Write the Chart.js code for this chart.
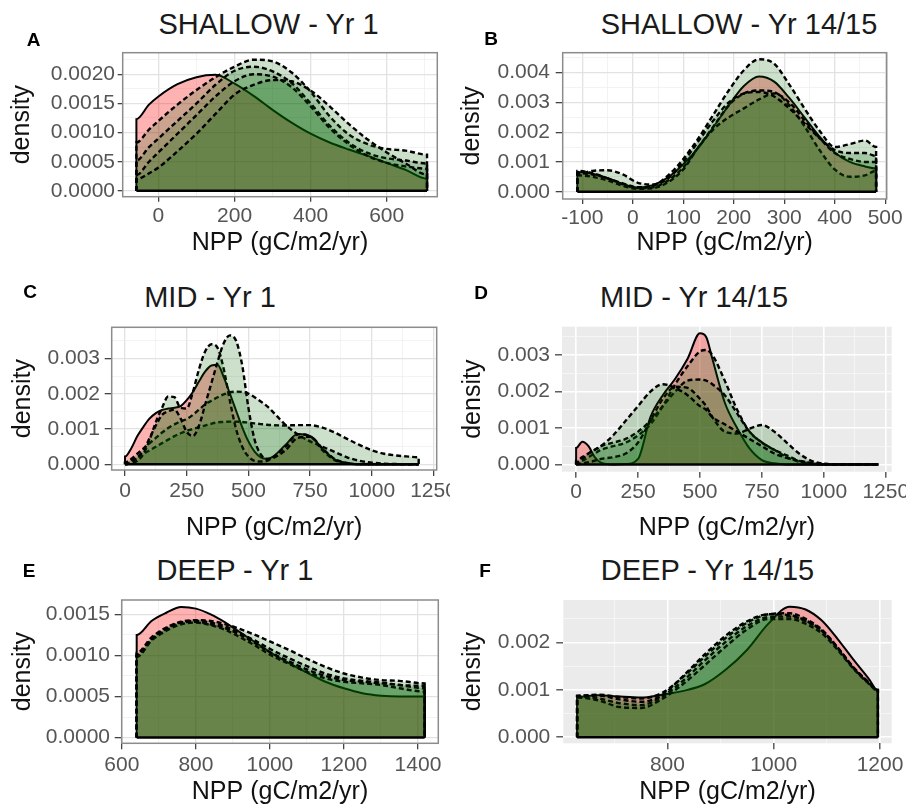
<!DOCTYPE html>
<html>
<head>
<meta charset="utf-8">
<title>NPP density</title>
<script src="https://cdn.jsdelivr.net/npm/chart.js@4.4.1/dist/chart.umd.min.js"></script>
<style>
  body {
    margin: 0;
    width: 906px;
    height: 808px;
    position: relative;
    overflow: hidden;
    background: #fff;
    font-family: 'Liberation Sans', Arial, sans-serif;
  }
  canvas { position: absolute; }
  .title, .tag {
    position: absolute;
    transform: translate(-50%, -50%);
    white-space: nowrap;
    line-height: 1;
    color: #1a1a1a;
  }
  .title { font-size: 29px; }
  .tag { font-size: 19px; font-weight: bold; color: #000; }
</style>
</head>
<body>
<script>
// ---- data (NPP grid + density per group) ----

// A: SHALLOW - Yr 1
const shallow1Npp = [-58, -25, 0, 50, 100, 150, 200, 250, 300, 350, 400, 450, 500, 550, 600, 650, 706];
const shallow1Red = [0.00123, 0.00148, 0.00162, 0.00183, 0.00195, 0.00199, 0.00184, 0.00163, 0.00139, 0.00117, 0.00098, 0.00083, 0.00071, 0.0006, 0.00048, 0.00036, 0.00021];
const shallow1Green1 = [0.00083, 0.00105, 0.0012, 0.00148, 0.00173, 0.00195, 0.00213, 0.00225, 0.00222, 0.00203, 0.0017, 0.00128, 0.00097, 0.0008, 0.00072, 0.00069, 0.00062];
const shallow1Green2 = [0.00052, 0.00075, 0.0009, 0.0012, 0.0015, 0.00182, 0.00206, 0.00213, 0.00205, 0.00185, 0.0015, 0.00112, 0.00083, 0.00065, 0.00056, 0.00052, 0.00047];
const shallow1Green3 = [0.00027, 0.0005, 0.00066, 0.00098, 0.0013, 0.00162, 0.00188, 0.002, 0.00196, 0.00178, 0.00145, 0.00108, 0.0008, 0.0006, 0.00048, 0.00042, 0.00038];
const shallow1Green4 = [0.0002, 0.0003, 0.0004, 0.00068, 0.00098, 0.00132, 0.00165, 0.00182, 0.0019, 0.00188, 0.00172, 0.00145, 0.00115, 0.00088, 0.00066, 0.00047, 0.00028];

// B: SHALLOW - Yr 14/15
const shallow14Npp = [-110, -80, -50, -20, 10, 40, 70, 100, 130, 160, 190, 220, 250, 280, 310, 340, 370, 400, 430, 460, 482];
const shallow14Red = [0.00066, 0.0006, 0.00045, 0.00026, 0.00014, 0.00022, 0.00048, 0.00092, 0.00148, 0.00218, 0.0029, 0.00355, 0.00387, 0.0037, 0.00315, 0.0025, 0.00185, 0.00132, 0.001, 0.00085, 0.00078];
const shallow14Green1 = [0.0006, 0.0007, 0.00072, 0.00058, 0.0003, 0.00024, 0.00055, 0.0011, 0.0018, 0.0026, 0.0034, 0.00408, 0.00445, 0.0043, 0.0036, 0.0028, 0.00205, 0.0015, 0.0016, 0.00172, 0.0015];
const shallow14Green2 = [0.0007, 0.00062, 0.00045, 0.00025, 0.00012, 0.00015, 0.00038, 0.00082, 0.0015, 0.0022, 0.0029, 0.0033, 0.0034, 0.00335, 0.0029, 0.0022, 0.0014, 0.00075, 0.0005, 0.00055, 0.0007];
const shallow14Green3 = [0.00055, 0.0005, 0.00038, 0.0002, 0.0001, 0.00012, 0.00032, 0.00075, 0.0015, 0.0021, 0.0025, 0.0028, 0.0031, 0.0033, 0.003, 0.0024, 0.0018, 0.0013, 0.0011, 0.001, 0.001];
const shallow14Green4 = [0.00062, 0.00058, 0.00045, 0.00028, 0.00015, 0.0002, 0.00045, 0.001, 0.0017, 0.0024, 0.003, 0.0033, 0.00335, 0.0032, 0.0028, 0.0023, 0.0018, 0.0014, 0.0013, 0.0013, 0.0012];

// C: MID - Yr 1
const mid1Npp = [0, 25, 50, 75, 100, 125, 150, 175, 200, 225, 250, 275, 300, 325, 350, 375, 400, 425, 450, 475, 500, 525, 550, 575, 600, 650, 700, 750, 800, 850, 900, 950, 1000, 1050, 1100, 1150, 1190];
const mid1Red = [0.00022, 0.00045, 0.0008, 0.00107, 0.0013, 0.00145, 0.00154, 0.00158, 0.0016, 0.00165, 0.00182, 0.00205, 0.00235, 0.00263, 0.0028, 0.00282, 0.00247, 0.002, 0.00152, 0.00105, 0.00065, 0.00036, 0.0002, 0.00016, 0.00022, 0.00055, 0.00086, 0.0008, 0.00045, 0.00014, 0.00003, 0.00001, 0, 0, 0, 0, 0];
const mid1Green1 = [0.00005, 0.00012, 0.0002, 0.0003, 0.0004, 0.0005, 0.0006, 0.0007, 0.0008, 0.00088, 0.00095, 0.001, 0.00105, 0.0011, 0.00115, 0.00119, 0.0012, 0.00121, 0.00121, 0.0012, 0.00118, 0.00116, 0.00114, 0.00112, 0.00111, 0.0011, 0.00111, 0.00111, 0.00104, 0.0009, 0.00072, 0.00055, 0.0004, 0.0003, 0.00025, 0.00022, 0.0002];
const mid1Green2 = [0.00005, 0.00015, 0.0003, 0.00045, 0.0006, 0.00075, 0.0009, 0.00103, 0.00113, 0.00122, 0.00128, 0.0014, 0.00155, 0.0017, 0.0018, 0.0019, 0.00198, 0.00204, 0.00206, 0.00205, 0.002, 0.0019, 0.00178, 0.00165, 0.00148, 0.00112, 0.00085, 0.00065, 0.0005, 0.00035, 0.0002, 0.0001, 0.00005, 0.00002, 0.00001, 0, 0];
const mid1Green3 = [0, 0.00003, 0.0001, 0.0003, 0.0007, 0.0012, 0.0016, 0.00192, 0.0019, 0.0016, 0.00158, 0.00205, 0.0027, 0.0032, 0.0034, 0.0033, 0.0027, 0.0018, 0.001, 0.0005, 0.00022, 0.0001, 0.00008, 0.0001, 0.0002, 0.0005, 0.00085, 0.0008, 0.0004, 0.00012, 0.00003, 0, 0, 0, 0, 0, 0];
const mid1Green4 = [0, 0.00005, 0.0002, 0.0004, 0.00075, 0.0011, 0.0014, 0.0015, 0.00155, 0.0013, 0.00092, 0.0008, 0.0011, 0.0017, 0.0023, 0.0029, 0.00343, 0.00365, 0.0035, 0.0028, 0.0016, 0.0007, 0.00028, 0.00015, 0.00018, 0.0004, 0.00075, 0.00078, 0.00045, 0.00015, 0.00004, 0, 0, 0, 0, 0, 0];

// D: MID - Yr 14/15
const mid14Npp = [0, 25, 50, 75, 100, 150, 200, 250, 300, 350, 400, 450, 500, 525, 550, 600, 650, 700, 750, 800, 850, 900, 950, 1000, 1100, 1220];
const mid14Red = [0.00045, 0.00062, 0.0005, 0.0002, 0.00005, 0, 0.00001, 0.00015, 0.0013, 0.0019, 0.00235, 0.0029, 0.0036, 0.0035, 0.0029, 0.0017, 0.001, 0.00044, 0.00012, 0.00003, 0, 0, 0, 0, 0, 0];
const mid14Green1 = [0.00005, 0.0001, 0.0002, 0.0003, 0.0004, 0.0005, 0.0006, 0.0008, 0.0011, 0.0016, 0.0022, 0.0027, 0.0031, 0.00314, 0.003, 0.0023, 0.0015, 0.0009, 0.0006, 0.0004, 0.0002, 0.00007, 0.00002, 0, 0, 0];
const mid14Green2 = [0.0001, 0.0002, 0.0003, 0.0004, 0.0005, 0.0006, 0.0007, 0.0009, 0.0012, 0.0016, 0.002, 0.0023, 0.00233, 0.0023, 0.0022, 0.0019, 0.0014, 0.0009, 0.0006, 0.0004, 0.00025, 0.0001, 0.00003, 0, 0, 0];
const mid14Green3 = [0, 0.00003, 0.00006, 0.0001, 0.00015, 0.0002, 0.0003, 0.0006, 0.0012, 0.0018, 0.00213, 0.0021, 0.0018, 0.0016, 0.0013, 0.0009, 0.00085, 0.00098, 0.00108, 0.0009, 0.0006, 0.0003, 0.0001, 0.00002, 0, 0];
const mid14Green4 = [0.00005, 0.00015, 0.0003, 0.0004, 0.0005, 0.0008, 0.0012, 0.0016, 0.002, 0.0022, 0.0021, 0.0019, 0.0016, 0.0015, 0.0013, 0.0011, 0.0009, 0.0007, 0.0005, 0.0003, 0.00018, 0.0001, 0.00004, 0.00001, 0, 0];

// E: DEEP - Yr 1
const deep1Npp = [640, 680, 720, 760, 800, 840, 880, 920, 960, 1000, 1050, 1100, 1150, 1200, 1250, 1300, 1350, 1418];
const deep1Red = [0.00125, 0.00142, 0.00152, 0.00159, 0.00157, 0.0015, 0.0014, 0.00128, 0.00116, 0.00104, 0.00091, 0.00079, 0.00068, 0.0006, 0.00054, 0.00051, 0.0005, 0.0005];
const deep1Green1 = [0.00103, 0.00122, 0.00134, 0.00141, 0.00143, 0.00142, 0.00138, 0.00132, 0.00125, 0.00117, 0.00107, 0.00096, 0.00086, 0.00078, 0.00073, 0.0007, 0.00069, 0.00066];
const deep1Green2 = [0.001, 0.0012, 0.00132, 0.0014, 0.00142, 0.0014, 0.00135, 0.00127, 0.00118, 0.00108, 0.00097, 0.00087, 0.00078, 0.00072, 0.00069, 0.00067, 0.00064, 0.0006];
const deep1Green3 = [0.00098, 0.00118, 0.0013, 0.00138, 0.0014, 0.00137, 0.00131, 0.00122, 0.00112, 0.00101, 0.0009, 0.0008, 0.00072, 0.00068, 0.00066, 0.00064, 0.0006, 0.00056];
const deep1Green4 = [0.00101, 0.0012, 0.00133, 0.0014, 0.00141, 0.00138, 0.00133, 0.00125, 0.00115, 0.00104, 0.00093, 0.00083, 0.00075, 0.0007, 0.00068, 0.00066, 0.00064, 0.00063];

// F: DEEP - Yr 14/15
const deep14Npp = [630, 670, 710, 750, 790, 830, 870, 910, 950, 990, 1030, 1060, 1090, 1120, 1150, 1180, 1196];
const deep14Red = [0.00085, 0.00089, 0.00086, 0.00084, 0.0009, 0.00098, 0.00112, 0.00143, 0.00185, 0.0024, 0.00276, 0.0027, 0.00247, 0.00208, 0.00164, 0.00122, 0.00098];
const deep14Green1 = [0.00088, 0.0009, 0.00085, 0.00082, 0.00094, 0.00128, 0.0017, 0.0021, 0.00242, 0.0026, 0.00262, 0.0025, 0.00228, 0.0019, 0.00148, 0.00115, 0.001];
const deep14Green2 = [0.00086, 0.00082, 0.00072, 0.00068, 0.00086, 0.0012, 0.00162, 0.00202, 0.00235, 0.00254, 0.00255, 0.00245, 0.00225, 0.00188, 0.00146, 0.00113, 0.00098];
const deep14Green3 = [0.00084, 0.00078, 0.00064, 0.00062, 0.00081, 0.00113, 0.00152, 0.00192, 0.00228, 0.0025, 0.0025, 0.0024, 0.0022, 0.00185, 0.00145, 0.00112, 0.00098];
const deep14Green4 = [0.00087, 0.00088, 0.0008, 0.00075, 0.00089, 0.0013, 0.00175, 0.00215, 0.00245, 0.0026, 0.00258, 0.00247, 0.00226, 0.0019, 0.00147, 0.00114, 0.001];

// tick values (major = labelled, minor = grid only)
const shallow1XMajor = [0, 200, 400, 600];
const shallow1XMinor = [100, 300, 500, 700];
const shallow1YMajor = [0, 0.0005, 0.001, 0.0015, 0.002];
const shallow1YMinor = [0.00025, 0.00075, 0.00125, 0.00175, 0.00225];
const shallow14XMajor = [-100, 0, 100, 200, 300, 400, 500];
const shallow14XMinor = [-50, 50, 150, 250, 350, 450];
const shallow14YMajor = [0, 0.001, 0.002, 0.003, 0.004];
const shallow14YMinor = [0.0005, 0.0015, 0.0025, 0.0035, 0.0045];
const midXMajor = [0, 250, 500, 750, 1000, 1250];
const midXMinor = [125, 375, 625, 875, 1125];
const midYMajor = [0, 0.001, 0.002, 0.003];
const midYMinor = [0.0005, 0.0015, 0.0025, 0.0035];
const deep1XMajor = [600, 800, 1000, 1200, 1400];
const deep1XMinor = [700, 900, 1100, 1300];
const deep1YMajor = [0, 0.0005, 0.001, 0.0015];
const deep1YMinor = [0.00025, 0.00075, 0.00125];
const deep14XMajor = [800, 1000, 1200];
const deep14XMinor = [700, 900, 1100];
const deep14YMajor = [0, 0.001, 0.002];
const deep14YMinor = [0.0005, 0.0015, 0.0025];

// ---- styling ----
Chart.defaults.font.family = "'Liberation Sans', Arial, sans-serif";
Chart.defaults.animation = false;

const RED_FILL = 'rgba(255, 0, 0, 0.3)';
const GREEN_FILL = 'rgba(0, 100, 0, 0.2)';
const TICK_TEXT = '#555555';

// panel background (theme_gray) and border (theme_bw)
const panelFrame = {
  id: 'panelFrame',
  beforeDraw(chart, args, opts) {
    if (!opts.background) return;
    const a = chart.chartArea;
    chart.ctx.save();
    chart.ctx.fillStyle = opts.background;
    chart.ctx.fillRect(a.left, a.top, a.width, a.height);
    chart.ctx.restore();
  },
  afterDraw(chart, args, opts) {
    if (!opts.borderColor) return;
    const a = chart.chartArea;
    const ctx = chart.ctx;
    ctx.save();
    ctx.strokeStyle = opts.borderColor;
    ctx.lineWidth = 1.5;
    ctx.strokeRect(a.left, a.top, a.width, a.height);
    ctx.restore();
  }
};

function densityPoints(npp, dens) {
  const pts = npp.map((x, i) => ({ x: x, y: dens[i] }));
  return [{ x: npp[0], y: 0 }, ...pts, { x: npp[npp.length - 1], y: 0 }];
}

function gridFor(gray, majors, tickLength) {
  return {
    color: c => majors.includes(c.tick.value) ? (gray ? '#ffffff' : '#e2e2e2') : (gray ? '#f7f7f7' : '#f0f0f0'),
    lineWidth: c => majors.includes(c.tick.value) ? (gray ? 1.6 : 1.3) : 0.8,
    tickLength: tickLength,
    tickColor: c => majors.includes(c.tick.value) ? '#444444' : 'rgba(0,0,0,0)',
    tickWidth: 1.3
  };
}

function addText(cls, text, x, y) {
  const div = document.createElement('div');
  div.className = cls;
  div.textContent = text;
  div.style.left = x + 'px';
  div.style.top = y + 'px';
  document.body.appendChild(div);
}

function makePanel(p) {
  const [cx, cy, cw, ch] = p.box;
  const canvas = document.createElement('canvas');
  canvas.width = cw;
  canvas.height = ch;
  canvas.style.left = cx + 'px';
  canvas.style.top = cy + 'px';
  document.body.appendChild(canvas);

  const gray = p.theme === 'gray';
  const yAxisWidth = p.plot.l - cx;
  const xAxisHeight = cy + ch - p.plot.b;
  const xTicks = p.xMajor.concat(p.xMinor).sort((a, b) => a - b);
  const yTicks = p.yMajor.concat(p.yMinor).sort((a, b) => a - b);
  const first = p.npp[0];
  const last = p.npp[p.npp.length - 1];

  const datasets = [{
    data: densityPoints(p.npp, p.red),
    backgroundColor: RED_FILL,
    borderColor: '#000',
    borderWidth: 2,
    fill: 'origin',
    order: 10
  }];
  p.greens.forEach((g, i) => {
    datasets.push({
      data: densityPoints(p.npp, g),
      backgroundColor: GREEN_FILL,
      borderColor: '#000',
      borderWidth: 2.4,
      borderDash: [5, 3],
      fill: 'origin',
      order: 9 - i
    });
  });
  // bottom edge of all polygons
  datasets.push({
    data: [{ x: first, y: 0 }, { x: last, y: 0 }],
    borderColor: '#000',
    borderWidth: 2.5,
    fill: false,
    order: 0
  });

  new Chart(canvas, {
    type: 'line',
    data: { datasets: datasets },
    options: {
      responsive: false,
      events: [],
      elements: {
        point: { radius: 0 },
        line: { cubicInterpolationMode: 'monotone' }
      },
      layout: {
        padding: { top: p.plot.t - cy, right: cx + cw - p.plot.r, bottom: 0, left: 0 }
      },
      plugins: {
        legend: { display: false },
        tooltip: { enabled: false },
        panelFrame: {
          background: gray ? '#ebebeb' : null,
          borderColor: gray ? null : '#8c8c8c'
        }
      },
      scales: {
        x: {
          type: 'linear',
          min: p.xRange[0],
          max: p.xRange[1],
          afterBuildTicks: s => { s.ticks = xTicks.map(v => ({ value: v })); },
          afterFit: s => { s.height = xAxisHeight; s.paddingLeft = 0; s.paddingRight = 0; },
          border: { display: false },
          grid: gridFor(gray, p.xMajor, p.xTick[0]),
          ticks: {
            autoSkip: false,
            maxRotation: 0,
            padding: p.xTick[1],
            color: TICK_TEXT,
            font: { size: 21 },
            callback: v => p.xMajor.includes(v) ? String(v) : ''
          },
          title: {
            display: true,
            text: 'NPP (gC/m2/yr)',
            color: '#111',
            font: { size: 25 },
            padding: { top: 0, bottom: 0 }
          }
        },
        y: {
          type: 'linear',
          min: p.yRange[0],
          max: p.yRange[1],
          afterBuildTicks: s => { s.ticks = yTicks.map(v => ({ value: v })); },
          afterFit: s => { s.width = yAxisWidth; s.paddingTop = 0; s.paddingBottom = 0; },
          border: { display: false },
          grid: gridFor(gray, p.yMajor, p.yTick[0]),
          ticks: {
            autoSkip: false,
            padding: p.yTick[1],
            color: TICK_TEXT,
            font: { size: 21 },
            callback: v => p.yMajor.includes(v) ? v.toFixed(p.decimals) : ''
          },
          title: {
            display: true,
            text: 'density',
            color: '#111',
            font: { size: 25 },
            padding: { top: p.yTitlePad, bottom: 0 }
          }
        }
      }
    },
    plugins: [panelFrame]
  });

  addText('title', p.title, p.titleAt[0], p.titleAt[1]);
  addText('tag', p.tag, p.tagAt[0], p.tagAt[1]);
}

const panels = [
  {
    tag: 'A', title: 'SHALLOW - Yr 1', theme: 'bw',
    npp: shallow1Npp, red: shallow1Red,
    greens: [shallow1Green1, shallow1Green2, shallow1Green3, shallow1Green4],
    xMajor: shallow1XMajor, xMinor: shallow1XMinor, yMajor: shallow1YMajor, yMinor: shallow1YMinor,
    xRange: [-94, 733], yRange: [-0.0001, 0.00237], decimals: 4,
    box: [0, 40, 450, 218], plot: { l: 122.7, t: 52.7, r: 437.3, b: 196.7 },
    xTick: [5, 2], yTick: [5, 2.7], yTitlePad: 7.3,
    titleAt: [268.5, 24], tagAt: [33.5, 39]
  },
  {
    tag: 'B', title: 'SHALLOW - Yr 14/15', theme: 'bw',
    npp: shallow14Npp, red: shallow14Red,
    greens: [shallow14Green1, shallow14Green2, shallow14Green3, shallow14Green4],
    xMajor: shallow14XMajor, xMinor: shallow14XMinor, yMajor: shallow14YMajor, yMinor: shallow14YMinor,
    xRange: [-139, 503], yRange: [-0.000245, 0.00467], decimals: 3,
    box: [450, 40, 456, 218], plot: { l: 562.7, t: 52.7, r: 886.7, b: 199 },
    xTick: [5, 2], yTick: [7, 5.7], yTitlePad: 6.7,
    titleAt: [739, 24], tagAt: [491, 37.5]
  },
  {
    tag: 'C', title: 'MID - Yr 1', theme: 'bw',
    npp: mid1Npp, red: mid1Red,
    greens: [mid1Green1, mid1Green2, mid1Green3, mid1Green4],
    xMajor: midXMajor, xMinor: midXMinor, yMajor: midYMajor, yMinor: midYMinor,
    xRange: [-54, 1263], yRange: [-0.00016, 0.00388], decimals: 3,
    box: [0, 315, 450, 228], plot: { l: 111.7, t: 327.3, r: 436.7, b: 470 },
    xTick: [6, 3], yTick: [7, 4.7], yTitlePad: 7.7,
    titleAt: [210, 297], tagAt: [30, 291]
  },
  {
    tag: 'D', title: 'MID - Yr 14/15', theme: 'gray',
    npp: mid14Npp, red: mid14Red,
    greens: [mid14Green1, mid14Green2, mid14Green3, mid14Green4],
    xMajor: midXMajor, xMinor: midXMinor, yMajor: midYMajor, yMinor: midYMinor,
    xRange: [-57, 1274], yRange: [-0.0002, 0.00378], decimals: 3,
    box: [450, 315, 456, 228], plot: { l: 562, t: 326.7, r: 891.7, b: 471.7 },
    xTick: [6, 1.5], yTick: [7, 5], yTitlePad: 8,
    titleAt: [694, 296.7], tagAt: [481, 292]
  },
  {
    tag: 'E', title: 'DEEP - Yr 1', theme: 'bw',
    npp: deep1Npp, red: deep1Red,
    greens: [deep1Green1, deep1Green2, deep1Green3, deep1Green4],
    xMajor: deep1XMajor, xMinor: deep1XMinor, yMajor: deep1YMajor, yMinor: deep1YMinor,
    xRange: [599.5, 1455], yRange: [-0.00007, 0.001675], decimals: 4,
    box: [0, 588, 450, 219], plot: { l: 121.7, t: 600, r: 438.3, b: 743.3 },
    xTick: [6, 3], yTick: [7, 4.7], yTitlePad: 8,
    titleAt: [235, 570], tagAt: [29, 570]
  },
  {
    tag: 'F', title: 'DEEP - Yr 14/15', theme: 'gray',
    npp: deep14Npp, red: deep14Red,
    greens: [deep14Green1, deep14Green2, deep14Green3, deep14Green4],
    xMajor: deep14XMajor, xMinor: deep14XMinor, yMajor: deep14YMajor, yMinor: deep14YMinor,
    xRange: [604, 1222], yRange: [-0.000127, 0.0029], decimals: 3,
    box: [450, 588, 456, 219], plot: { l: 563.3, t: 600, r: 891.7, b: 743.3 },
    xTick: [6, 3], yTick: [7, 6], yTitlePad: 8,
    titleAt: [707.5, 570], tagAt: [485, 570]
  }
];

panels.forEach(makePanel);
</script>
</body>
</html>
